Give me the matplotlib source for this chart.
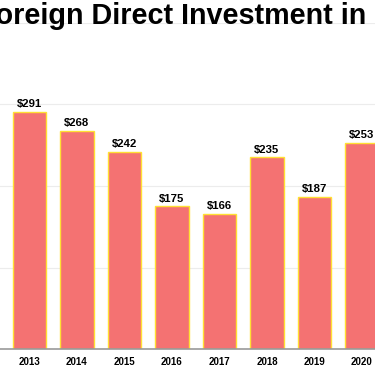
import matplotlib
matplotlib.use("Agg")
import matplotlib.pyplot as plt

years = ["2013", "2014", "2015", "2016", "2017", "2018", "2019", "2020"]
values = [291, 268, 242, 175, 166, 235, 187, 253]
labels = ["$" + str(v) for v in values]
title = "Foreign Direct Investment in"

W, H = 375, 366
fig = plt.figure(figsize=(W / 100, H / 100), dpi=100)
bottom = (H - 349) / H
top = (H - 23) / H
ax = fig.add_axes([0, bottom, 1, top - bottom])
plt.rcParams['font.family'] = ['Liberation Sans', 'DejaVu Sans']

x = list(range(len(years)))
ax.bar(x, values, width=0.7, color="#F47272", edgecolor="#FFE033", linewidth=1.0, zorder=3)
for xi, v, lab in zip(x, values, labels):
    ax.annotate(lab, (xi, v), xytext=(0, 2), textcoords="offset points",
                ha="center", va="bottom", fontsize=8.2, fontweight="bold",
                family=['Liberation Sans', 'DejaVu Sans'])

ax.set_xlim(-0.621, 7.274)
ax.set_ylim(0, 400)
ax.set_yticks([100, 200, 300, 400])
ax.yaxis.grid(True, color="#ececec", linewidth=0.8, zorder=0)
ax.tick_params(axis="y", left=False, labelleft=False)
ax.set_xticks(x)
ax.set_xticklabels(years, fontsize=7, fontweight="bold", family=['Liberation Sans', 'DejaVu Sans'])
ax.tick_params(axis="x", length=0, pad=6)
for s in ["top", "left", "right"]:
    ax.spines[s].set_visible(False)
ax.spines["bottom"].set_color("#999999")
ax.spines["bottom"].set_linewidth(1.2)
ax.spines["bottom"].set_zorder(4)

fig.text(-0.060, 1 - 16 / H, title, ha="left", va="center", fontsize=20.7,
         fontweight="bold", family=['Liberation Sans', 'DejaVu Sans'])

fig.savefig("out.png", dpi=100)
